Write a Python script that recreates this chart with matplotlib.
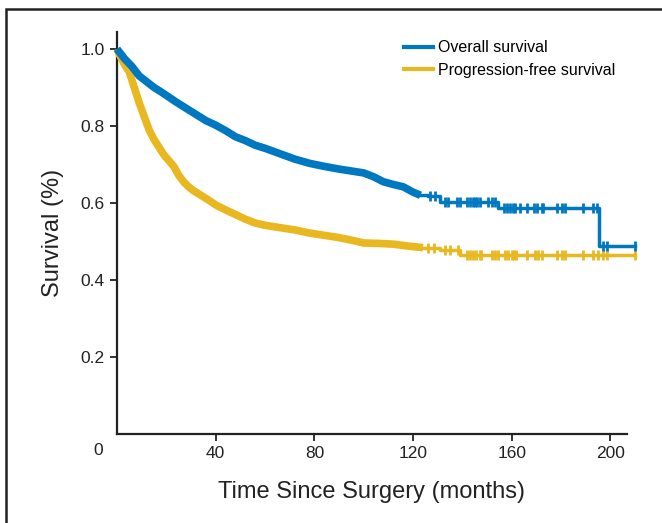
import matplotlib
matplotlib.use("Agg")
import matplotlib.pyplot as plt
from matplotlib.patches import Rectangle
from matplotlib import font_manager

# font: condensed look if available
names = set(f.name for f in font_manager.fontManager.ttflist)
fam = "Liberation Sans Narrow" if "Liberation Sans Narrow" in names else "Liberation Sans"
plt.rcParams['font.family'] = [fam, 'DejaVu Sans']

blue = "#0078c1"
yellow = "#e9b820"

# overall survival (months, survival)
os_t = [0, 3, 6, 9, 12, 15, 18, 21, 24, 27, 30, 33, 36, 40, 44, 48, 52, 56, 60,
        66, 72, 78, 84, 90, 96, 100, 104, 108, 112, 116, 120, 123, 126, 131,
        154.5, 195.4, 210]
os_s = [1.0, 0.975, 0.955, 0.93, 0.915, 0.9, 0.888, 0.875, 0.862, 0.85, 0.838,
        0.826, 0.814, 0.802, 0.788, 0.772, 0.762, 0.75, 0.742, 0.728, 0.714,
        0.703, 0.695, 0.688, 0.682, 0.678, 0.668, 0.655, 0.648, 0.642, 0.628,
        0.62, 0.617, 0.603, 0.588, 0.488, 0.488]
os_cens = [127, 129, 132.9, 134.3, 137.6, 139, 142, 143, 144.1, 145, 146, 147.1,
           150.5, 151.8, 153.2, 156.8, 157.9, 159.3, 160.4, 161.3, 163.3, 166,
           169, 170.1, 172.1, 172.8, 178.2, 180.2, 181.6, 189, 193.1, 194.4,
           197.1, 198.5, 210]

# progression-free survival
pfs_t = [0, 1, 3, 5, 7, 9, 11, 13, 15, 17, 19, 21, 23, 25, 27, 29, 31, 34, 37,
         40, 44, 48, 52, 56, 60, 66, 72, 78, 84, 90, 96, 100, 106, 112, 118,
         124, 130.8, 139, 210]
pfs_s = [1.0, 0.985, 0.96, 0.94, 0.9, 0.86, 0.825, 0.79, 0.765, 0.745, 0.725,
         0.71, 0.695, 0.672, 0.655, 0.642, 0.632, 0.62, 0.608, 0.595, 0.582,
         0.57, 0.558, 0.548, 0.542, 0.536, 0.53, 0.522, 0.516, 0.51, 0.502,
         0.496, 0.495, 0.493, 0.488, 0.484, 0.478, 0.465, 0.465]
pfs_cens = [126, 128.5, 132.9, 134.9, 138.3, 141.7, 143, 144.1, 145.5, 147.1,
            147.7, 151.8, 153.2, 154.5, 157.2, 158.6, 159.9, 160.9, 161.9, 166,
            169.4, 170.8, 172.1, 178.2, 180.2, 181.6, 189, 193.1, 195.1, 197.1,
            198.5, 210]

xticks = [40, 80, 120, 160, 200]
yticks = [0.2, 0.4, 0.6, 0.8, 1.0]


def surv_at(t, s, x):
    v = s[0]
    for ti, si in zip(t, s):
        if ti <= x:
            v = si
    return v


fig = plt.figure(figsize=(6.62, 5.23), dpi=100)
ax = fig.add_axes([117 / 662, 1 - 434 / 523, 510 / 662, 402 / 523])

def draw(t, s, cens, col, split):
    # dense part: censor marks merge into a thick smooth band
    k = [i for i, ti in enumerate(t) if ti <= split][-1]
    ax.plot(t[:k + 1], s[:k + 1], color=col, lw=5.5, solid_capstyle='butt',
            solid_joinstyle='round', clip_on=False, zorder=3)
    ax.plot(t[k:], s[k:], color=col, lw=2.5, drawstyle='steps-post',
            clip_on=False, zorder=3)
    cy = [surv_at(t, s, c) for c in cens]
    ax.plot(cens, cy, ls='none', marker='|', ms=7.5, mew=2, color=col,
            clip_on=False, zorder=3)

draw(pfs_t, pfs_s, pfs_cens, yellow, 130)
draw(os_t, os_s, os_cens, blue, 123)

ax.set_xlim(0, 206.7)
ax.set_ylim(0, 1.044)
ax.set_xticks(xticks)
ax.set_xticklabels([str(v) for v in xticks])
ax.set_yticks(yticks)
ax.set_yticklabels(["%.1f" % v for v in yticks])
for sp in ['top', 'right']:
    ax.spines[sp].set_visible(False)
for sp in ['left', 'bottom']:
    ax.spines[sp].set_linewidth(1.6)
    ax.spines[sp].set_color("#222222")
ax.tick_params(direction='out', length=5, width=1.3, color="#222222",
               labelsize=12.5, labelcolor="#222222", pad=4)
ax.annotate("0", xy=(0, 0), xycoords=('data', 'axes fraction'),
            xytext=(-19, -9), textcoords='offset pixels', ha='center',
            va='top', fontsize=12.5, color="#222222")

ax.set_xlabel("Time Since Surgery (months)", fontsize=17, color="#222222",
              labelpad=14)
ax.set_ylabel("Survival (%)", fontsize=17, color="#222222", labelpad=12)

leg = ax.legend(handles=[plt.Line2D([], [], color=blue, lw=3),
                         plt.Line2D([], [], color=yellow, lw=3)],
                labels=["Overall survival", "Progression-free survival"],
                loc='upper left', bbox_to_anchor=(0.55, 0.995), frameon=False,
                fontsize=11.5, handlelength=1.8, handletextpad=0.35,
                labelspacing=0.45, borderaxespad=0.0)

# outer frame of the figure
fig.add_artist(Rectangle((5.5 / 662, -0.1), 1.2, 1 - 8.5 / 523 + 0.1,
                         transform=fig.transFigure, fill=False,
                         edgecolor="#222222", lw=1.8))

fig.savefig("out.png", dpi=100)
